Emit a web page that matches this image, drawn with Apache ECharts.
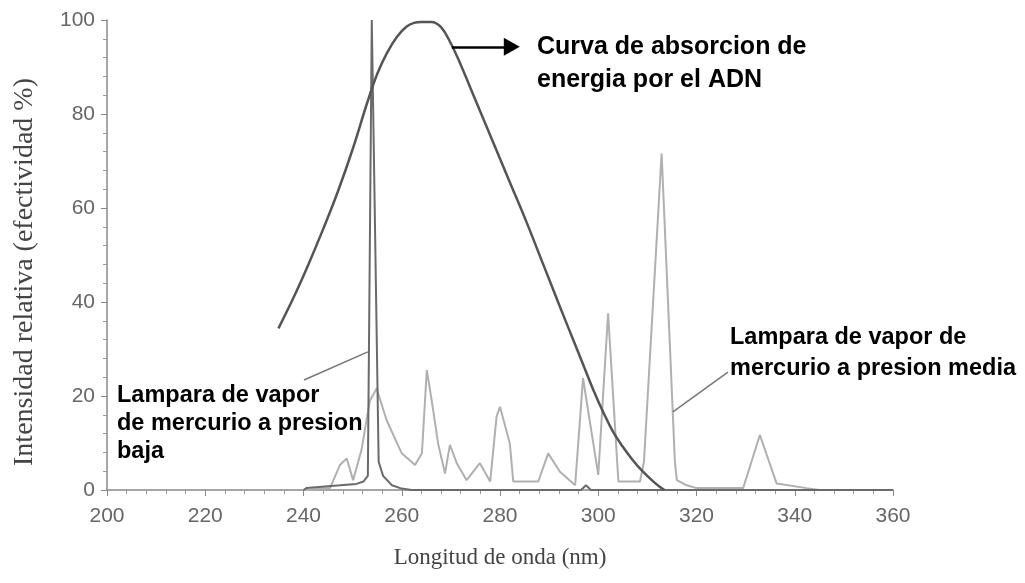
<!DOCTYPE html>
<html>
<head>
<meta charset="utf-8">
<script src="https://cdn.jsdelivr.net/npm/echarts@6/dist/echarts.min.js"></script>
<style>
  html,body{margin:0;padding:0;background:#fff}
  #main{width:1025px;height:583px}
</style>
</head>
<body>
<div id="main"></div>
<script>
// curva de absorcion del ADN [nm, %]
const dnaCurve = [
  [234.9,34.4],[238,41],[241,48],[244,55.5],[247,63.5],[250,72.5],[253,82.5],
  [255,88.5],[257,93],[259,96.4],[261,98.6],[262.5,99.4],[264,99.6],[266,99.6],
  [268,98.5],[270,95],[272,90.5],[274,85.5],[276,80.5],[278.6,74],[282,65.5],
  [285.4,57],[288.8,48],[292.2,39],[295,31.7],[297,26.5],[299,21.3],[301,16.6],
  [303,12.4],[305,9.2],[307,6.4],[309,4],[311,2],[312.5,0.7],[313.5,0]
]
// lampara de baja presion
const lowLamp = [
  [240,0],[240.6,0.4],[245,0.8],[247.4,1],[250.8,1.3],[252.2,1.8],[253.1,3],
  [253.9,100],[255.3,6],[256.2,3],[258,1],[260,0.3],[262,0],[296.5,0],[297.5,1],
  [298.5,0],[360,0]
]
// lampara de media presion
const mediumLamp = [
  [240,0],[245.4,0.4],[247.4,5.3],[248.8,6.7],[250.1,2.1],[251.8,8.5],[253.5,19],
  [254.9,21.6],[256.9,14.9],[260,7.8],[262.7,5.3],[264.1,7.8],[265.1,25.5],[266.1,19],
  [267.4,9.9],[268.8,3.5],[269.8,9.6],[271.2,5.7],[273.2,2.1],[275.9,5.7],[278,1.8],
  [279.3,15.6],[280,17.7],[282,9.9],[282.7,1.8],[287.8,1.8],[289.8,7.8],[292.2,3.9],
  [295.3,1],[296.9,23.8],[300,3.2],[302,37.6],[304.1,1.8],[308.5,1.8],[309.3,6],
  [312.9,71.6],[315.6,6],[316,2.1],[318,1],[320,0.4],[329.5,0.4],[332.9,11.7],
  [336.3,1.4],[342.4,0.4],[345,0],[360,0]
]
const xTicks = [200,220,240,260,280,300,320,340,360]
const yTicks = [0,20,40,60,80,100]

let chart = echarts.init(document.getElementById('main'))

//estilo de los textos de las notas
function note(text,size,lh){
  return {text:text, fontFamily:'"Liberation Sans", Arial, sans-serif', fontWeight:'bold', fontSize:size, lineHeight:lh, fill:'#000'}
}

let option = {
  backgroundColor:'#fff',
  animation:false,
  grid:{left:107, right:132, top:20, bottom:93},
  xAxis:{
    type:'value', min:xTicks[0], max:xTicks[xTicks.length-1], interval:20,
    name:'Longitud de onda (nm)', nameLocation:'middle', nameGap:56,
    nameTextStyle:{fontFamily:'"Liberation Serif", serif', fontSize:23, color:'#444'},
    axisLine:{lineStyle:{color:'#888', width:1.5}},
    axisTick:{show:true, length:6, lineStyle:{color:'#888'}},
    minorTick:{show:true, splitNumber:5, length:4, lineStyle:{color:'#999'}},
    axisLabel:{fontFamily:'"Liberation Sans", Arial, sans-serif', fontSize:21, color:'#666', margin:16},
    splitLine:{show:false}
  },
  yAxis:{
    type:'value', min:yTicks[0], max:yTicks[yTicks.length-1], interval:20,
    name:'Intensidad relativa (efectividad %)', nameLocation:'middle', nameGap:68,
    nameTextStyle:{fontFamily:'"Liberation Serif", serif', fontSize:28, color:'#444', padding:[0,34,0,0]},
    axisLine:{show:true, lineStyle:{color:'#888', width:1.5}},
    axisTick:{show:true, length:6, lineStyle:{color:'#888'}},
    minorTick:{show:true, splitNumber:5, length:4, lineStyle:{color:'#999'}},
    axisLabel:{fontFamily:'"Liberation Sans", Arial, sans-serif', fontSize:21, color:'#666', margin:12},
    splitLine:{show:false}
  },
  series:[
    {
      name:'Media presion', type:'line', data:mediumLamp, showSymbol:false,
      lineStyle:{color:'#b0b0b0', width:2}, z:2,
      markLine:{
        silent:true, symbol:['none','none'], label:{show:false},
        lineStyle:{color:'#777', width:1.5, type:'solid'},
        data:[[{coord:[326.4,25.1]},{coord:[315.2,16.6]}]]
      }
    },
    {
      name:'Baja presion', type:'line', data:lowLamp, showSymbol:false,
      lineStyle:{color:'#6a6a6a', width:2}, z:3,
      markLine:{
        silent:true, symbol:['none','none'], label:{show:false},
        lineStyle:{color:'#777', width:1.5, type:'solid'},
        data:[[{coord:[240.1,23.4]},{coord:[253.1,29.4]}]]
      }
    },
    {
      name:'ADN', type:'line', data:dnaCurve, showSymbol:false, smooth:0.4,
      lineStyle:{color:'#555', width:2.5}, z:4,
      markLine:{
        silent:true, symbol:['none','triangle'], symbolSize:[18,16], label:{show:false},
        lineStyle:{color:'#000', width:2.5, type:'solid'},
        data:[[{coord:[270.2,94.3]},{coord:[282.4,94.3]}]]
      }
    }
  ],
  graphic:[
    {type:'text', left:537, top:31, style:note('Curva de absorcion de\nenergia por el ADN',25,33)},
    {type:'text', left:117, top:382, style:note('Lampara de vapor\nde mercurio a presion\nbaja',23.5,28)},
    {type:'text', left:730, top:322, style:note('Lampara de vapor de\nmercurio a presion media',23.5,31)}
  ]
}
chart.setOption(option)
</script>
</body>
</html>
